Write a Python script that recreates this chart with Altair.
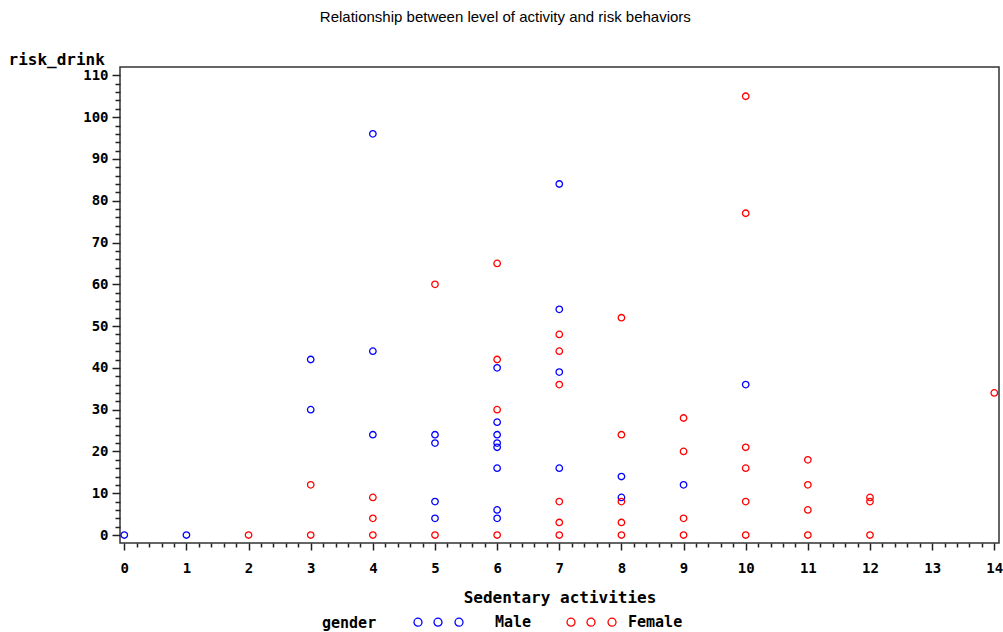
import altair as alt
import pandas as pd

# ---- data ----
male_x = [0, 1, 3, 3, 4, 4, 4, 5, 5, 5, 5, 6, 6, 6, 6, 6, 6, 6, 6, 7, 7, 7, 7, 8, 8, 9, 10]
male_y = [0, 0, 42, 30, 96, 44, 24, 24, 22, 8, 4, 40, 27, 24, 22, 21, 16, 6, 4, 84, 54, 39, 16, 14, 9, 12, 36]

female_x = [2, 3, 3, 4, 4, 4, 5, 5, 6, 6, 6, 6, 7, 7, 7, 7, 7, 7, 8, 8, 8, 8, 8,
            9, 9, 9, 9, 10, 10, 10, 10, 10, 10, 11, 11, 11, 11, 12, 12, 12, 14]
female_y = [0, 12, 0, 9, 4, 0, 60, 0, 65, 42, 30, 0, 48, 44, 36, 8, 3, 0, 52, 24, 8, 3, 0,
            28, 20, 4, 0, 105, 77, 21, 16, 8, 0, 18, 12, 6, 0, 9, 8, 0, 34]

genders = ["Male", "Female"]
gender_colors = ["#0000ff", "#ff0000"]

x_major = list(range(0, 15))
y_major = list(range(0, 111, 10))
x_minor = [round(i * 0.2, 1) for i in range(0, 71) if i % 5 != 0]
y_minor = [v for v in range(0, 111, 2) if v % 10 != 0]

x_domain = [-0.069, 14.076]
y_domain = [-1.91, 112.0]

df = pd.DataFrame({
    "sedentary": male_x + female_x,
    "risk_drink": male_y + female_y,
    "gender": ["Male"] * len(male_x) + ["Female"] * len(female_x),
})

MONO = "DejaVu Sans Mono"


# legend symbols: three small circles inside a unit box (SAS style legend)
def circle_path(cx, r):
    return (f"M {cx - r:.3f},0 A {r},{r} 0 1,0 {cx + r:.3f},0 "
            f"A {r},{r} 0 1,0 {cx - r:.3f},0 Z")


def three_circles(centers, r=0.111):
    return "M -1,-1 M 1,1 " + " ".join(circle_path(c, r) for c in centers)


male_symbol = three_circles([-0.889, -0.333, 0.25])
female_symbol = three_circles([-0.333, 0.222, 0.806])

x_scale = alt.Scale(domain=x_domain, nice=False, zero=False)
y_scale = alt.Scale(domain=y_domain, nice=False, zero=False)
color_scale = alt.Scale(domain=genders, range=gender_colors)

legend = alt.Legend(
    orient="none", legendX=202, legendY=518,
    direction="horizontal", title="gender",
    titleOrient="left", titleAnchor="middle", titleBaseline="middle",
    titleFont=MONO, titleFontWeight="bold", titleFontSize=15,
    titleColor="black", titlePadding=36,
    labelFont=MONO, labelFontWeight="bold", labelFontSize=15,
    labelColor="black", labelOffset=8, columnPadding=12,
    symbolSize=5184, symbolStrokeWidth=1.3, symbolOpacity=1,
    symbolFillColor="transparent", padding=0,
)

points = alt.Chart(df).mark_point(
    shape="circle", filled=False, size=42, strokeWidth=1.3, opacity=1
).encode(
    x=alt.X("sedentary:Q", scale=x_scale,
            axis=alt.Axis(
                orient="bottom", values=x_major, tickSize=7, tickWidth=1.5,
                tickColor="#222", domain=False, grid=False, labelFlush=False,
                labelFont=MONO, labelFontWeight="bold", labelFontSize=14,
                labelColor="black", labelBaseline="alphabetic", labelPadding=22,
                title="Sedentary activities", titleFont=MONO, titleFontWeight="bold",
                titleFontSize=16, titleColor="black", titleBaseline="alphabetic",
                titleY=59)),
    y=alt.Y("risk_drink:Q", scale=y_scale,
            axis=alt.Axis(
                orient="left", values=y_major, tickSize=8, tickWidth=1.5,
                tickColor="#222", domain=False, grid=False, labelFlush=False,
                labelFont=MONO, labelFontWeight="bold", labelFontSize=14,
                labelColor="black", labelBaseline="middle", labelPadding=4,
                title="risk_drink", titleFont=MONO, titleFontWeight="bold",
                titleFontSize=16, titleColor="black", titleAngle=0,
                titleAlign="left", titleBaseline="alphabetic",
                titleX=-112, titleY=-3)),
    color=alt.Color("gender:N", scale=color_scale, legend=None),
)

minor = alt.Chart(df).mark_point(opacity=0, filled=False).encode(
    x=alt.X("sedentary:Q", scale=x_scale, title=None,
            axis=alt.Axis(orient="bottom", values=x_minor, tickSize=4, tickWidth=1.5,
                          tickColor="#222", domain=False, grid=False, labels=False)),
    y=alt.Y("risk_drink:Q", scale=y_scale, title=None,
            axis=alt.Axis(orient="left", values=y_minor, tickSize=5, tickWidth=1.5,
                          tickColor="#222", domain=False, grid=False, labels=False)),
    color=alt.Color("gender:N", scale=color_scale, legend=legend),
    shape=alt.Shape("gender:N",
                    scale=alt.Scale(domain=genders, range=[male_symbol, female_symbol]),
                    legend=legend),
)

chart = alt.layer(points, minor).resolve_axis(
    x="independent", y="independent"
).resolve_legend(
    color="independent", shape="independent"
).properties(
    width=879, height=476,
    background="white",
    title=alt.TitleParams(
        "Relationship between level of activity and risk behaviors",
        font="Liberation Sans", fontSize=15, fontWeight="normal", color="black",
        anchor="middle", frame="bounds", baseline="alphabetic", offset=14),
    autosize=alt.AutoSizeParams(type="none"),
    padding={"left": 120, "top": 67, "right": 4, "bottom": 89},
).configure_view(
    stroke="#333333", strokeWidth=1.5
)

chart.save("out.html", embed_options={"renderer": "svg", "actions": False})
